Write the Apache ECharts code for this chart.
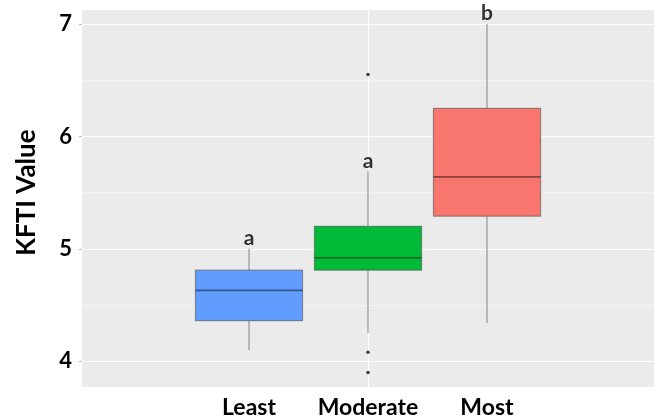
<!DOCTYPE html>
<html>
<head>
<meta charset="utf-8">
<script src="https://cdn.jsdelivr.net/npm/echarts@6/dist/echarts.min.js"></script>
<style>html,body{margin:0;padding:0;background:#fff;}#c{width:656px;height:420px;}</style>
</head>
<body>
<div id="c"></div>
<script>
const categories = ['Least', 'Moderate', 'Most'];
// [lower whisker, Q1, median, Q3, upper whisker]
const boxValues = [
  [4.10, 4.36, 4.63, 4.81, 5.00],
  [4.25, 4.81, 4.92, 5.20, 5.69],
  [4.34, 5.29, 5.64, 6.25, 7.00]
];
const boxColors = ['#619CFF', '#00BA38', '#F8766D'];
const outliers = [['Moderate', 6.55], ['Moderate', 4.08], ['Moderate', 3.90]];
const letters = ['a', 'a', 'b'];
const yMin = 3.77, yMax = 7.125;
const yTickMin = 4, yTickMax = 7;
const yTitle = 'KFTI Value';

const font = 'Lato, "Open Sans", sans-serif';
const chart = echarts.init(document.getElementById('c'), null, {renderer: 'canvas'});

// pixel span of the panel and where the integer ticks fall inside it
const panelTop = 10, panelBottom = 33, panelH = 420 - panelTop - panelBottom;
const pxPerUnit = panelH / (yMax - yMin);
const tickTop = panelTop + (yMax - yTickMax) * pxPerUnit;
const tickBottom = panelBottom + (yTickMin - yMin) * pxPerUnit;

chart.setOption({
  backgroundColor: '#ffffff',
  animation: false,
  grid: [
    {left: 189.5, width: 357, top: panelTop, bottom: panelBottom},
    {left: 82, right: 2, top: panelTop, bottom: panelBottom, show: true, backgroundColor: '#EBEBEB', borderWidth: 0},
    {left: 82, right: 2, top: tickTop, bottom: tickBottom}
  ],
  xAxis: [
    {type: 'category', gridIndex: 0, data: categories, boundaryGap: true,
     axisLine: {show: false}, axisTick: {show: false}, splitLine: {show: false},
     axisLabel: {interval: 0, color: '#000', fontFamily: font, fontWeight: 'bold', fontSize: 23, margin: 9}},
    {type: 'value', gridIndex: 1, min: 0, max: 2, interval: 1,
     axisLine: {show: false}, axisTick: {show: false}, axisLabel: {show: false},
     splitLine: {show: true, showMinLine: false, showMaxLine: false, lineStyle: {color: '#ffffff', width: 1}}},
    {type: 'value', gridIndex: 2, show: false}
  ],
  yAxis: [
    {type: 'value', gridIndex: 2, min: yTickMin, max: yTickMax, interval: 1,
     name: yTitle, nameLocation: 'middle', nameRotate: 90, nameGap: 42,
     nameTextStyle: {color: '#000', fontFamily: font, fontWeight: 'bold', fontSize: 26},
     axisLine: {show: false},
     axisTick: {show: true, length: 3, lineStyle: {color: '#bbb'}},
     axisLabel: {color: '#000', fontFamily: font, fontWeight: 'bold', fontSize: 22, margin: 10},
     splitLine: {show: true, lineStyle: {color: '#ffffff', width: 1.2}}},
    {type: 'value', gridIndex: 1, min: yMin, max: yMax, splitNumber: 7,
     axisLine: {show: false}, axisTick: {show: false}, axisLabel: {show: false},
     splitLine: {show: true, showMinLine: false, showMaxLine: false, lineStyle: {color: 'rgba(255,255,255,0.6)', width: 0.8}}},
    {type: 'value', gridIndex: 0, min: yMin, max: yMax, show: false, splitLine: {show: false}}
  ],
  series: [
    {type: 'custom', xAxisIndex: 0, yAxisIndex: 2,
     data: boxValues.map((v, i) => [i].concat(v)),
     renderItem: function (params, api) {
       const i = api.value(0);
       const lo = api.coord([i, api.value(1)]);
       const q1 = api.coord([i, api.value(2)]);
       const md = api.coord([i, api.value(3)]);
       const q3 = api.coord([i, api.value(4)]);
       const hi = api.coord([i, api.value(5)]);
       const w = api.size([1, 0])[0] * 0.9;
       const x0 = lo[0] - w / 2;
       const whisk = {stroke: '#9b9b9b', lineWidth: 1.3};
       return {type: 'group', children: [
         {type: 'line', shape: {x1: hi[0], y1: hi[1], x2: q3[0], y2: q3[1]}, style: whisk},
         {type: 'line', shape: {x1: q1[0], y1: q1[1], x2: lo[0], y2: lo[1]}, style: whisk},
         {type: 'rect', shape: {x: x0, y: q3[1], width: w, height: q1[1] - q3[1]},
          style: {fill: boxColors[i], stroke: 'rgba(80,80,80,0.55)', lineWidth: 1.2}},
         {type: 'line', shape: {x1: x0, y1: md[1], x2: x0 + w, y2: md[1]},
          style: {stroke: 'rgba(0,0,0,0.45)', lineWidth: 1.6}}
       ]};
     }},
    {type: 'scatter', xAxisIndex: 0, yAxisIndex: 2, data: outliers, symbolSize: 3.5,
     itemStyle: {color: '#111'}},
    {type: 'scatter', xAxisIndex: 0, yAxisIndex: 2, symbolSize: 0,
     data: categories.map((c, i) => [c, boxValues[i][4]]),
     label: {show: true, position: 'top', distance: 0, formatter: p => letters[p.dataIndex],
       color: '#000', fontFamily: font, fontWeight: 'bold', fontSize: 21}}
  ]
});
</script>
</body>
</html>
